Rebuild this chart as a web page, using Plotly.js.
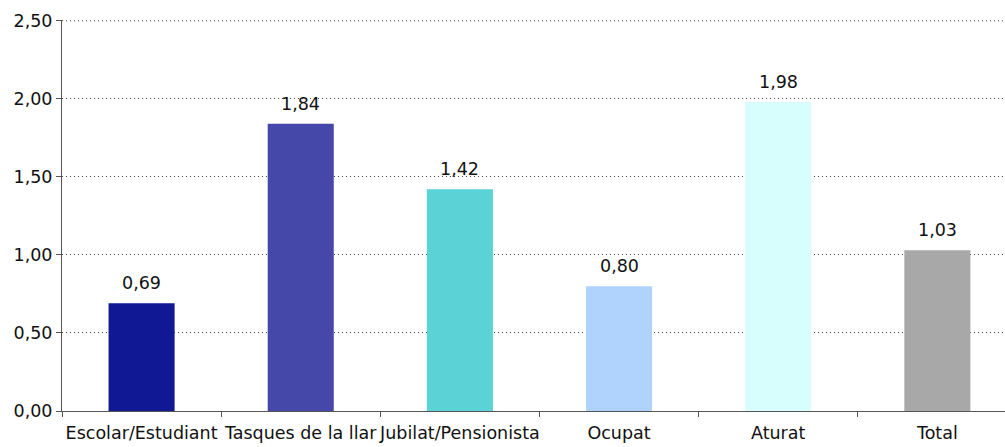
<!DOCTYPE html>
<html>
<head>
<meta charset="utf-8">
<script src="https://cdn.plot.ly/plotly-3.0.1.min.js"></script>
<style>html,body{margin:0;padding:0;overflow:hidden;background:#fff}#chart{width:1005px;height:447px}</style>
</head>
<body>
<div id="chart"></div>
<script>
var categories = ["Escolar/Estudiant", "Tasques de la llar", "Jubilat/Pensionista", "Ocupat", "Aturat", "Total"];
var values = [0.69, 1.84, 1.42, 0.80, 1.98, 1.03];
var barColors = ["#111894", "#4548a8", "#5bd3d6", "#afd3fd", "#d8fdfd", "#a8a8a8"];
var yTicks = [0, 0.5, 1, 1.5, 2, 2.5];

var FONT = "DejaVu Sans";
var FS = 17.5;

var trace = {
  type: "bar",
  x: categories,
  y: values,
  marker: {color: barColors, line: {width: 0}},
  width: 0.415,
  hoverinfo: "none"
};

var annotations = categories.map(function(c, i){
  return {
    x: c, y: values[i], xref: "x", yref: "y",
    text: values[i].toFixed(2).replace(".", ","),
    showarrow: false, xanchor: "center", yanchor: "bottom",
    yshift: 8,
    font: {family: FONT, size: FS, color: "#111"}
  };
});

var topY = yTicks[yTicks.length - 1];

var layout = {
  width: 1005, height: 447,
  margin: {l: 62, r: 0, t: 20, b: 36},
  paper_bgcolor: "#fff", plot_bgcolor: "#fff",
  separators: ",.",
  showlegend: false,
  font: {family: FONT, size: FS, color: "#111"},
  annotations: annotations,
  shapes: [{
    type: "line", xref: "paper", yref: "y",
    x0: 0, x1: 1, y0: topY, y1: topY,
    layer: "below",
    line: {color: "#444", width: 1, dash: "1px,3px"}
  }],
  xaxis: {
    type: "category",
    range: [-0.5, 5.425],
    tickangle: 0,
    showgrid: false,
    showline: true, linecolor: "#555", linewidth: 1,
    ticks: "outside", ticklen: 5, tickcolor: "#555",
    tickson: "boundaries",
    ticklabelstandoff: 6,
    tickfont: {family: FONT, size: FS, color: "#111"},
    zeroline: false
  },
  yaxis: {
    range: [0, 2.505],
    tickvals: yTicks,
    tickformat: ".2f",
    showline: true, linecolor: "#555", linewidth: 1,
    ticks: "outside", ticklen: 5, tickcolor: "#555",
    showgrid: true, gridcolor: "#444", gridwidth: 1, griddash: "1px,3px",
    zeroline: false,
    tickfont: {family: FONT, size: FS, color: "#111"}
  }
};

Plotly.newPlot("chart", [trace], layout, {staticPlot: true, displayModeBar: false});
</script>
</body>
</html>
